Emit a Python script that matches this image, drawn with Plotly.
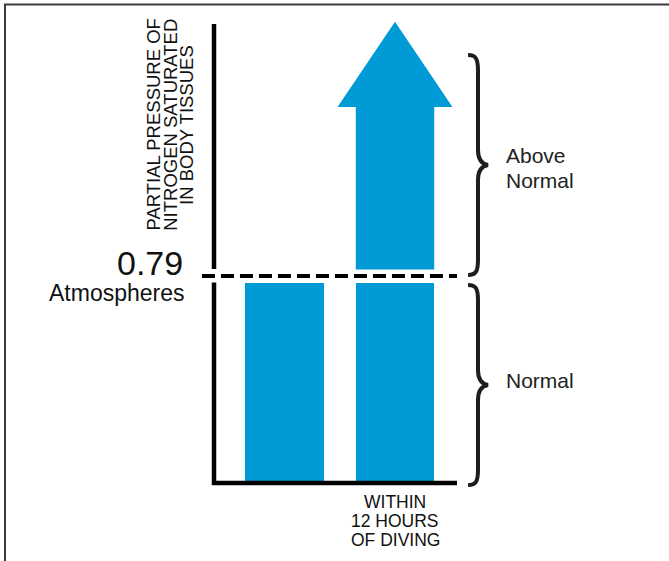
import plotly.graph_objects as go

# ---------------- data ----------------
bar_positions = [0, 1]                      # category slots
bar_labels = ["", "WITHIN|12 HOURS|OF DIVING"]  # second bar label (lines split by |)
normal_level = 0.79                          # atmospheres
bar_values = [0.79, 1.76]                    # first bar = normal, second = arrow tip
above_brace_top = 1.633
y_title_lines = ["PARTIAL PRESSURE OF", "NITROGEN SATURATED", "IN BODY TISSUES"]
level_label = "0.79"
level_unit = "Atmospheres"
brace_labels = [["Normal"], ["Above", "Normal"]]

# ---------------- style ----------------
BLUE = "#009AD7"
INK = "#111111"
FONT = "Liberation Sans, Arial, Helvetica, sans-serif"
W, H = 669, 561
PX_X = 110.5          # pixels per x unit
PX_Y = 262.03         # pixels per y unit
X0_PX, Y0_PX = 284.5, 483.0
xrange_ = [-X0_PX / PX_X, (W - X0_PX) / PX_X]
yrange_ = [(Y0_PX - H) / PX_Y, Y0_PX / PX_Y]

dx = lambda p: p / PX_X   # pixel length -> x units
dy = lambda p: p / PX_Y   # pixel length -> y units

bar_w = 0.71
head_half = 0.52
head_len = 0.325
gap = 0.025
yaxis_x = -0.638
yaxis_top = 1.752
xaxis_left = -0.656
xaxis_right = 1.561
dash_left = -0.747
brace_label_centers = [0.3912, 1.2022]
brace_label_step = 25

fig = go.Figure()

# lower bar segments (below the 0.79 line)
fig.add_trace(go.Bar(
    x=bar_positions, y=[min(v, normal_level) - gap for v in bar_values], base=0,
    width=bar_w, marker=dict(color=BLUE, line=dict(width=0)),
    hoverinfo="skip", showlegend=False))

# arrow above the line for values exceeding normal
for xp, v in zip(bar_positions, bar_values):
    if v > normal_level:
        yb = normal_level + gap
        yh = v - head_len
        xs = [xp - bar_w / 2, xp - bar_w / 2, xp - head_half, xp, xp + head_half,
              xp + bar_w / 2, xp + bar_w / 2, xp - bar_w / 2]
        ys = [yb, yh, yh, v, yh, yh, yb, yb]
        fig.add_trace(go.Scatter(x=xs, y=ys, fill="toself", fillcolor=BLUE,
                                 mode="lines", line=dict(width=0, color=BLUE),
                                 hoverinfo="skip", showlegend=False))

shapes = []
# y axis (broken at the reference line)
shapes.append(dict(type="line", xref="x", yref="y", x0=yaxis_x, x1=yaxis_x,
                   y0=-0.008, y1=normal_level - gap, line=dict(color="black", width=4.5)))
shapes.append(dict(type="line", xref="x", yref="y", x0=yaxis_x, x1=yaxis_x,
                   y0=normal_level + gap * 1.08, y1=yaxis_top, line=dict(color="black", width=4.5)))
# x axis
shapes.append(dict(type="line", xref="x", yref="y", x0=xaxis_left, x1=xaxis_right,
                   y0=0, y1=0, line=dict(color="black", width=4.5)))
# dashed reference line
shapes.append(dict(type="line", xref="x", yref="y", x0=dash_left, x1=xaxis_right,
                   y0=normal_level, y1=normal_level,
                   line=dict(color="black", width=4, dash="13px,6px")))


def brace(y_bot, y_top, xl=1.661, xs=1.751, xt=1.842):
    ym = (y_bot + y_top) / 2
    p = []
    p.append(f"M {xl},{y_top}")
    p.append(f"C {xl + dx(8)},{y_top} {xs},{y_top - dy(4)} {xs},{y_top - dy(15)}")
    p.append(f"L {xs},{ym + dy(15)}")
    p.append(f"C {xs},{ym + dy(6)} {xs + dx(4)},{ym + dy(1)} {xt},{ym}")
    p.append(f"C {xs + dx(4)},{ym - dy(1)} {xs},{ym - dy(6)} {xs},{ym - dy(15)}")
    p.append(f"L {xs},{y_bot + dy(15)}")
    p.append(f"C {xs},{y_bot + dy(4)} {xl + dx(8)},{y_bot} {xl},{y_bot}")
    return " ".join(p)


brace_spans = [(-0.008, normal_level - 0.034), (normal_level + 0.004, above_brace_top)]
for (yb, yt) in brace_spans:
    shapes.append(dict(type="path", xref="x", yref="y", path=brace(yb, yt),
                       line=dict(color="#1e1e1e", width=4)))

# frame
shapes.append(dict(type="line", xref="paper", yref="paper", x0=4 / W, x1=1,
                   y0=1 - 4.5 / H, y1=1 - 4.5 / H, line=dict(color="#3a3a3a", width=2.2)))
shapes.append(dict(type="line", xref="paper", yref="paper", x0=5 / W, x1=5 / W,
                   y0=1 - 4 / H, y1=0, line=dict(color="#3a3a3a", width=2)))

annotations = []


def txt(text, x, y, size, xanchor="center", angle=0, color=INK):
    annotations.append(dict(text=text, x=x, y=y, xref="x", yref="y", showarrow=False,
                            xanchor=xanchor, yanchor="middle", textangle=angle,
                            font=dict(family=FONT, size=size, color=color)))


# y axis title (rotated, three lines)
for i, line in enumerate(y_title_lines):
    txt(line, -1.1855 + i * 0.1465, 1.366, 18.5, angle=-90)

# reference level labels
txt(level_label, -0.897, normal_level + 0.048, 34, xanchor="right")
txt(level_unit, -0.878, normal_level - 0.065, 23, xanchor="right")

# x category label
for xp, lab in zip(bar_positions, bar_labels):
    if lab:
        for j, line in enumerate(lab.split("|")):
            txt(line, xp, -0.0706 - j * dy(19), 17.5)

# brace labels
for yc, labs in zip(brace_label_centers, brace_labels):
    n = len(labs)
    for j, lab in enumerate(labs):
        off = ((n - 1) / 2 - j) * dy(brace_label_step)
        txt(lab, 1.99, yc + off, 21, xanchor="left", color="#222222")

fig.update_layout(
    width=W, height=H, margin=dict(l=0, r=0, t=0, b=0),
    paper_bgcolor="white", plot_bgcolor="white",
    xaxis=dict(range=xrange_, visible=False, fixedrange=True),
    yaxis=dict(range=yrange_, visible=False, fixedrange=True),
    shapes=shapes, annotations=annotations, showlegend=False, bargap=0,
)

fig.write_html("out.html", config={"displayModeBar": False},
               post_script="document.body.style.margin='0';document.body.style.overflow='hidden';")
